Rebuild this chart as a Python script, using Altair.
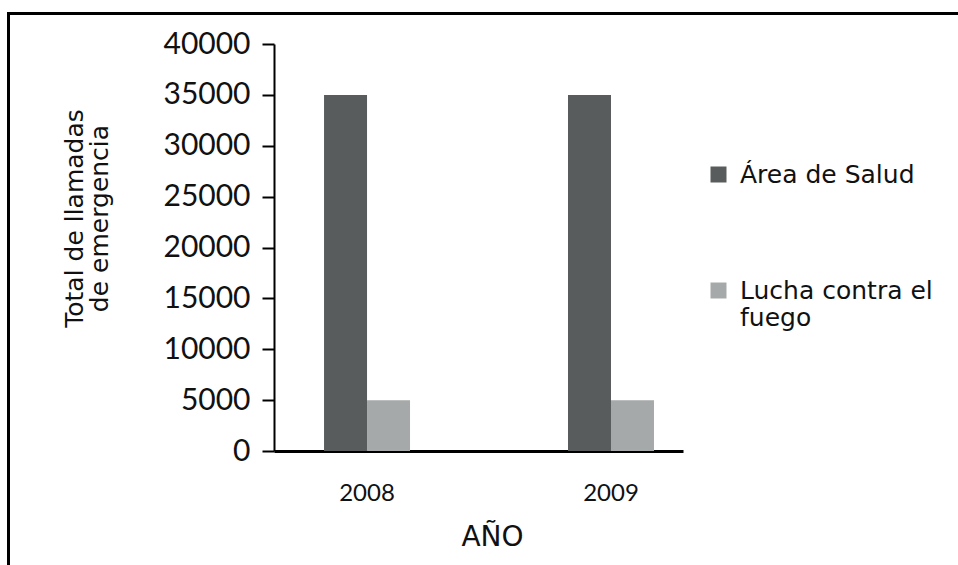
import altair as alt
import pandas as pd

years = ["2008", "2009"]
series = ["Área de Salud", "Lucha contra el fuego"]
salud = [35000, 35000]
fuego = [5000, 5000]
colors = ["#585c5c", "#a6a9a9"]

rows = []
for i, y in enumerate(years):
    rows.append({"year": y, "serie": series[0], "value": salud[i]})
    rows.append({"year": y, "serie": series[1], "value": fuego[i]})
df = pd.DataFrame(rows)

NUM_FONT = "Lato"
TXT_FONT = "DejaVu Sans"

bars = alt.Chart(df).mark_bar().encode(
    x=alt.X(
        "year:N",
        sort=years,
        scale=alt.Scale(paddingInner=0.6475, paddingOuter=0.162, align=0.633),
        axis=alt.Axis(
            title="AÑO",
            labelAngle=0,
            ticks=False,
            tickSize=0,
            labelPadding=30,
            labelFont=NUM_FONT,
            labelFontSize=24,
            labelColor="#111111",
            domainColor="#000000",
            domainWidth=3,
            titleFont=TXT_FONT,
            titleFontSize=28,
            titleFontWeight="normal",
            titleColor="#111111",
            titleX=218,
            titleY=86,
            titleBaseline="middle",
            grid=False,
        ),
    ),
    xOffset=alt.XOffset("serie:N", sort=series, scale=alt.Scale(paddingInner=0, paddingOuter=0)),
    y=alt.Y(
        "value:Q",
        scale=alt.Scale(domain=[0, 40000]),
        axis=alt.Axis(
            title=["Total de llamadas", "de emergencia"],
            values=[0, 5000, 10000, 15000, 20000, 25000, 30000, 35000, 40000],
            format="d",
            tickSize=12,
            tickWidth=2,
            tickColor="#000000",
            domainColor="#000000",
            domainWidth=2,
            labelPadding=12,
            labelFont=NUM_FONT,
            labelFontSize=30,
            labelColor="#111111",
            titleFont=TXT_FONT,
            titleFontSize=25,
            titleFontWeight="normal",
            titleColor="#111111",
            titleLineHeight=25,
            titleX=-200,
            titleY=174,
            titleAngle=270,
            titleAlign="center",
            titleBaseline="middle",
            grid=False,
        ),
    ),
    color=alt.Color(
        "serie:N",
        sort=series,
        scale=alt.Scale(domain=series, range=colors),
        legend=alt.Legend(
            title=None,
            orient="none",
            legendX=432,
            legendY=118,
            padding=0,
            symbolType="square",
            symbolSize=256,
            symbolStrokeWidth=0,
            symbolOffset=0,
            labelOffset=9,
            labelFont=TXT_FONT,
            labelFontSize=25,
            labelColor="#111111",
            labelLimit=400,
            rowPadding=90,
            labelExpr="datum.label == 'Lucha contra el fuego' ? ['Lucha contra el', 'fuego'] : datum.label",
        ),
    ),
)

frame_top = alt.Chart(alt.Data(values=[{}])).mark_rule(color="#000000", strokeWidth=3).encode(
    x=alt.value(-267), x2=alt.value(684), y=alt.value(-30.5)
)
frame_left = alt.Chart(alt.Data(values=[{}])).mark_rule(color="#000000", strokeWidth=3).encode(
    x=alt.value(-265.5), y=alt.value(-32), y2=alt.value(521)
)

chart = alt.layer(bars, frame_top, frame_left).properties(
    width=409,
    height=407,
    padding={"left": 274, "top": 44, "right": 275, "bottom": 114},
    autosize=alt.AutoSizeParams(type="none"),
    background="white",
).configure_view(stroke=None)

chart.save("out.html", embed_options={"renderer": "svg", "actions": False})
